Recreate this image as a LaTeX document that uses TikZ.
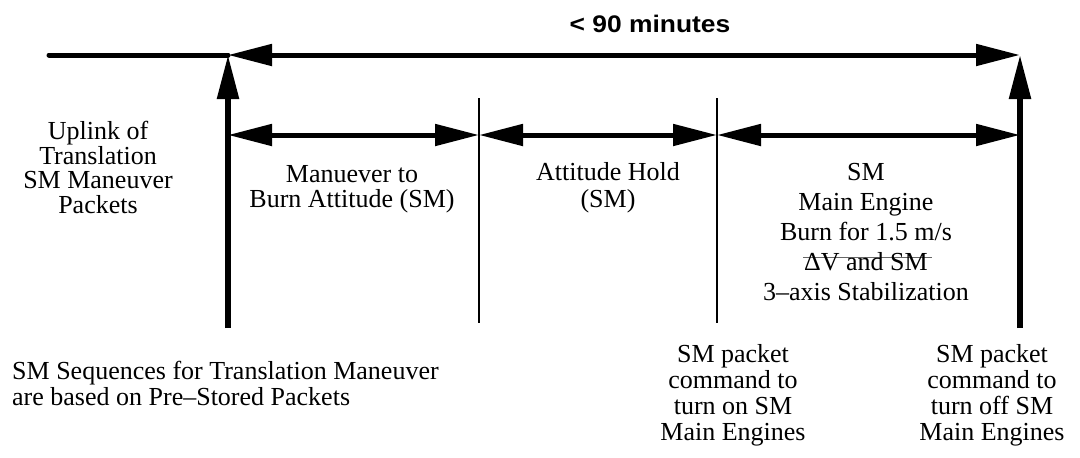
\documentclass[tikz,border=0pt]{standalone}
\usepackage{fontspec}
\setmainfont{Liberation Serif}
\newfontfamily\headfont{Liberation Sans}
\usetikzlibrary{arrows.meta}

% strike a grey rule through a short piece of text
\newcommand{\strk}[1]{\setbox0\hbox{#1}\rlap{\kern-1pt\raisebox{0.46em}{\textcolor{black!60}{\rule{\dimexpr\wd0+5pt\relax}{1pt}}}}\box0}
% fixed first-line height, so that a block's top sits a known distance above its first baseline
\newcommand{\topline}{\rule{0pt}{18pt}}

\begin{document}
\begin{tikzpicture}[x=1pt,y=-1pt,
  >={Triangle[length=44pt,width=21pt]},
  heavy/.style={line width=5pt},
  light/.style={line width=2pt},
  lbl/.style={font=\fontsize{26}{#1}\selectfont, align=center, inner sep=0pt, anchor=north},
  lbl/.default=26,
  headlbl/.style={font=\headfont\bfseries\fontsize{24}{26}\selectfont, inner sep=0pt, anchor=base}]
\useasboundingbox (0,0) rectangle (1080,458);

% time axis
\coordinate (L)  at (49,55);
\coordinate (T0) at (228,55);
\coordinate (T1) at (1020,55);
\coordinate (B0) at (228,328);
\coordinate (B1) at (1020,328);

% phase boundaries
\coordinate (v1t) at (479,98);
\coordinate (v1b) at (479,323);
\coordinate (v2t) at (717,98);
\coordinate (v2b) at (717,323);

% phase arrows
\coordinate (r0) at (228,135);
\coordinate (r1) at (479,135);
\coordinate (r2) at (717,135);
\coordinate (r3) at (1020,135);

\draw[heavy, line cap=round] (L) -- (T0);
\draw[heavy, <->] (T0) -- (T1);
\draw[heavy, line width=5.5pt, ->] (B0) -- (T0);
\draw[heavy, line width=5.5pt, ->] (B1) -- (T1);

\draw[light] (v1t) -- (v1b);
\draw[light] (v2t) -- (v2b);

\draw[heavy, <->] (r0) -- (r1);
\draw[heavy, <->] (r1) -- (r2);
\draw[heavy, <->] (r2) -- (r3);

\node[headlbl] (dur) at (650,32) {\scalebox{1.1}[1]{< 90 minutes}};

% node tops are 18pt above the first baseline
\node[lbl=24.7] (uplink) at (98,121) {\topline Uplink of\\Translation\\SM Maneuver\\Packets};
\node[lbl=25] (manv) at (352,164) {\topline Manuever to\\Burn Attitude (SM)};
\node[lbl=27] (hold) at (608,162) {\topline Attitude Hold\\(SM)};
\node[lbl=30] (burn) at (866,162) {\topline SM\\Main Engine\\Burn for 1.5 m/s\\\strk{ΔV and SM}\\3–axis Stabilization};

\node[lbl, align=left, anchor=north west] (seq) at (12,361) {\topline SM Sequences for Translation Maneuver\\are based on Pre–Stored Packets};
\node[lbl] (on) at (733,344) {\topline SM packet\\command to\\turn on SM\\Main Engines};
\node[lbl] (off) at (992,344) {\topline SM packet\\command to\\turn off SM\\Main Engines};
\end{tikzpicture}
\end{document}
